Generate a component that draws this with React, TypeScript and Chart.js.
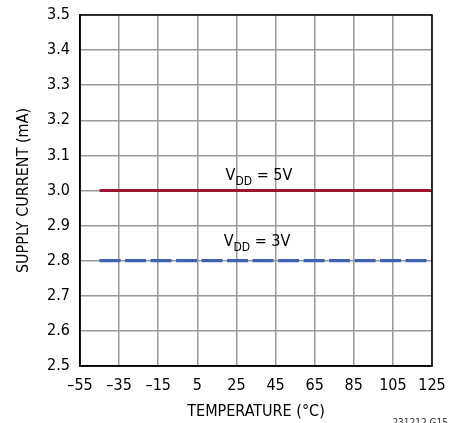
import React, { useEffect, useRef } from "react";
import { Chart, registerables } from "chart.js";

Chart.register(...registerables);

const temps = [-45, 125];
const vdd5 = [3.0, 3.0];
const vdd3 = [2.8, 2.8];
const xTicks = [-55, -35, -15, 5, 25, 45, 65, 85, 105, 125];
const seriesLabels = ["5V", "3V"];
const labelAnchors = [
  { t: 36.5, v: 3.03 },
  { t: 35.5, v: 2.842 },
];

const FONT = "'DejaVu Sans Condensed', 'Liberation Sans Narrow', 'Liberation Sans', sans-serif";

const labelPlugin = {
  id: "vddLabels",
  afterDatasetsDraw(chart: any) {
    const { ctx, scales } = chart;
    ctx.save();
    ctx.fillStyle = "#000";
    ctx.textBaseline = "alphabetic";
    labelAnchors.forEach((a, i) => {
      const cx = scales.x.getPixelForValue(a.t);
      const by = scales.y.getPixelForValue(a.v);
      const big = `16px ${FONT}`;
      const small = `12px ${FONT}`;
      const rest = ` = ${seriesLabels[i]}`;
      ctx.font = big;
      const wV = ctx.measureText("V").width;
      const wR = ctx.measureText(rest).width;
      ctx.font = small;
      const wS = ctx.measureText("DD").width;
      const total = wV + wS + wR;
      let x = cx - total / 2;
      ctx.textAlign = "left";
      ctx.font = big;
      ctx.fillText("V", x, by);
      x += wV;
      ctx.font = small;
      ctx.fillText("DD", x, by + 5);
      x += wS;
      ctx.font = big;
      ctx.fillText(rest, x, by);
    });
    ctx.font = `10px ${FONT}`;
    ctx.textAlign = "right";
    ctx.fillStyle = "#333";
    ctx.fillText("231212 G15", 448, 426);
    ctx.restore();
  },
};

export default function App() {
  const ref = useRef<HTMLCanvasElement>(null);
  useEffect(() => {
    if (!ref.current) return;
    const chart = new Chart(ref.current, {
      type: "line",
      data: {
        labels: temps,
        datasets: [
          {
            data: temps.map((t, i) => ({ x: t, y: vdd5[i] })),
            borderColor: "#9e1330",
            borderWidth: 3.2,
            pointRadius: 0,
          },
          {
            data: temps.map((t, i) => ({ x: t, y: vdd3[i] })),
            borderColor: "#4062b2",
            borderWidth: 3.2,
            borderDash: [21, 4.5],
            pointRadius: 0,
          },
        ],
      },
      options: {
        animation: false,
        responsive: false,
        maintainAspectRatio: false,
        layout: { padding: { left: 0, right: 26, top: 15, bottom: 0 } },
        plugins: { legend: { display: false }, tooltip: { enabled: false } },
        scales: {
          x: {
            type: "linear",
            min: -55,
            max: 125,
            afterBuildTicks(scale: any) {
              scale.ticks = xTicks.map((v) => ({ value: v }));
            },
            afterFit(scale: any) {
              scale.height = 57;
              scale.paddingLeft = 0;
              scale.paddingRight = 0;
            },
            ticks: {
              color: "#000",
              font: { family: FONT, size: 16 },
              padding: 10,
              maxRotation: 0,
              autoSkip: false,
              callback: (v: any) => String(v).replace("-", "\u2013"),
            },
            grid: { color: "#999", lineWidth: 1.5, drawTicks: false },
            border: { color: "#000", width: 1.5 },
            title: {
              display: true,
              text: "TEMPERATURE (°C)",
              color: "#000",
              font: { family: FONT, size: 16 },
              padding: { top: 0, bottom: 2 },
            },
          },
          y: {
            min: 2.5,
            max: 3.5,
            afterFit(scale: any) {
              scale.width = 80;
              scale.paddingTop = 0;
              scale.paddingBottom = 0;
            },
            ticks: {
              stepSize: 0.1,
              color: "#000",
              font: { family: FONT, size: 16 },
              padding: 10,
              callback: (v: any) => Number(v).toFixed(1),
            },
            grid: { color: "#999", lineWidth: 1.5, drawTicks: false },
            border: { color: "#000", width: 1.5 },
            title: {
              display: true,
              text: "SUPPLY CURRENT (mA)",
              color: "#000",
              font: { family: FONT, size: 16 },
              padding: { top: 14, bottom: 0 },
            },
          },
        },
      },
      plugins: [
        labelPlugin,
        {
          id: "box",
          afterDraw(chart: any) {
            const { ctx, chartArea: a } = chart;
            ctx.save();
            ctx.strokeStyle = "#000";
            ctx.lineWidth = 1.5;
            ctx.strokeRect(a.left, a.top, a.right - a.left, a.bottom - a.top);
            ctx.restore();
          },
        },
      ],
    } as any);
    return () => chart.destroy();
  }, []);
  return (
    <div style={{ position: "fixed", left: 0, top: 0, width: 458, height: 423, background: "#fff" }}>
      <canvas ref={ref} width={458} height={423} style={{ width: 458, height: 423 }} />
    </div>
  );
}
